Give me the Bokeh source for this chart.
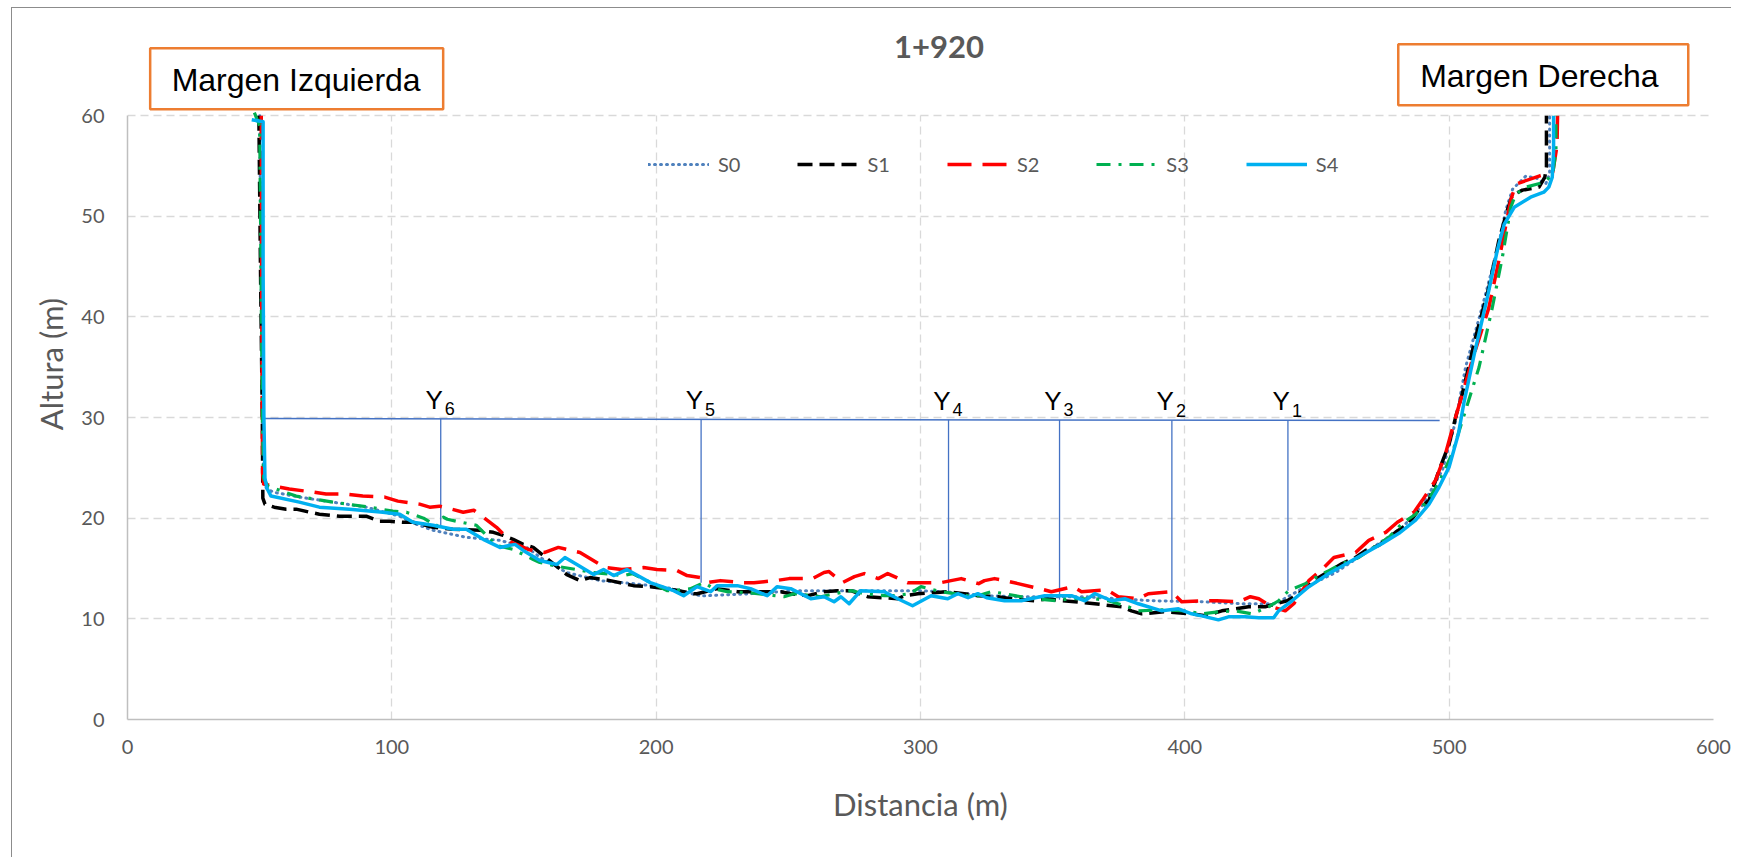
import numpy as np
from bokeh.plotting import figure
from bokeh.models import (ColumnDataSource, Legend, LegendItem, FixedTicker, Range1d)
from bokeh.core.properties import value
from bokeh.embed import file_html
from bokeh.resources import INLINE

TITLE = "1+920"
X_LABEL = "Distancia (m)"
Y_LABEL = "Altura (m)"
X_TICKS = [0, 100, 200, 300, 400, 500, 600]
Y_TICKS = [0, 10, 20, 30, 40, 50, 60]
SERIES = ["S0", "S1", "S2", "S3", "S4"]

S0_pts = [(50.0, 60), (50.5, 45), (51.0, 30), (51.5, 24), (52.5, 23), (55, 22.6), (65, 22.1),
          (77.7, 21.6), (90.3, 21.1), (103, 20.2), (109.3, 19.4), (115.6, 18.8), (128.2, 18.1),
          (140.9, 17.8), (151, 17.1), (157.3, 15.9), (166.2, 14.6), (178.8, 13.8), (191.5, 13.5),
          (204.1, 13.1), (216.7, 12.3), (219.3, 12.3), (235.7, 12.5), (252.2, 12.8), (273.7, 12.8),
          (299, 12.8), (309, 12.7), (324.2, 12.3), (336.9, 12.2), (349.5, 12.2), (362.2, 12.2),
          (374.8, 12.0), (387.5, 11.8), (406.4, 11.7), (421.6, 11.5), (434.2, 11.5), (444.4, 13.0),
          (457, 14.6), (469.6, 16.8), (482.3, 19.1), (489.9, 21.3), (497.5, 24.8), (502.5, 29.7),
          (506.2, 35), (512.5, 41), (518.8, 47.3), (521.4, 50.6), (524, 52.7), (529, 54.0),
          (533, 53.8), (536.5, 53.2), (538.0, 54.2), (538.0, 60)]

S1_pts = [(49.7, 60), (50.3, 45), (51.0, 30), (51.2, 22), (52, 21.4), (55.5, 21.1), (60, 20.9),
          (63.8, 20.9), (68.8, 20.6), (72.6, 20.4), (80.2, 20.2), (90.3, 20.2), (95.4, 19.7),
          (99.2, 19.7), (104.2, 19.6), (108, 19.6), (115.6, 19.1), (123, 18.9), (133.3, 18.8),
          (138.4, 18.6), (142.1, 18.3), (145.9, 17.9), (149.7, 17.4), (153.5, 17.1), (157.3, 16.3),
          (162, 15.3), (166.2, 14.4), (171.2, 13.8), (175, 14.1), (182.6, 13.8), (191.4, 13.3),
          (197.8, 13.2), (204.1, 13.0), (214.2, 12.5), (215.5, 12.5), (223.1, 13.0), (230.7, 12.7),
          (235.7, 12.7), (247.1, 12.7), (250.9, 12.5), (257.2, 12.3), (263.5, 12.7), (268.6, 12.8),
          (273.7, 12.8), (280, 12.2), (291.4, 12.0), (293.9, 12.3), (299, 12.5), (305, 12.6),
          (310, 12.7), (316.6, 12.5), (321.7, 12.3), (329.3, 12.2), (334.3, 12.0), (343.2, 11.8),
          (348.2, 12.0), (353.3, 11.8), (358.4, 11.7), (365.9, 11.5), (372.3, 11.3), (376.1, 11.2),
          (379.8, 10.8), (383.7, 10.5), (392, 10.7), (402.6, 10.5), (407.7, 10.3), (414, 10.8),
          (419, 11.0), (424.1, 11.2), (430.4, 11.2), (438.7, 11.8), (443.1, 12.5), (450, 14.0),
          (459.5, 15.5), (464.6, 16.1), (468.4, 16.8), (473.4, 17.3), (479.7, 18.6), (484.8, 19.5),
          (488.6, 20.9), (492.4, 21.8), (496.2, 24.8), (500, 27.4), (502.5, 30.1), (505, 32.4),
          (510, 38), (515, 42.9), (518.8, 47.6), (522, 50.6), (523.9, 52.1), (527.7, 52.6),
          (534, 52.9), (536.2, 53.9), (536.8, 54.9), (536.8, 60)]

S2_pts = [(50.6, 60), (50.8, 40), (51.1, 24.5), (51.5, 23.4), (55, 23.2), (61.2, 22.9), (70.1, 22.6),
          (75.1, 22.4), (82.7, 22.4), (89, 22.2), (97.3, 22.1), (102.3, 21.7), (110.5, 21.4),
          (114.3, 21.1), (118, 21.2), (122.6, 20.9), (127, 20.6), (131, 20.8), (134.6, 20.1),
          (139.6, 19.1), (145.3, 17.6), (151.6, 16.9), (157.9, 16.6), (163, 17.1), (171.2, 16.6),
          (175.6, 15.9), (180.7, 15.1), (187, 14.9), (195.2, 15.1), (200.3, 14.9), (207.9, 14.8),
          (211.7, 14.3), (216.7, 14.1), (219.3, 13.6), (224.3, 13.8), (233.2, 13.6), (237, 13.6),
          (245.2, 13.8), (250.3, 14.0), (259.1, 14.0), (263.5, 14.6), (265.4, 14.7), (270.5, 13.6),
          (275, 14.2), (278.7, 14.5), (284, 14.0), (287.6, 14.5), (295.1, 13.6), (300.2, 13.6),
          (307.8, 13.6), (315.4, 14.0), (322, 13.5), (324.2, 13.8), (328, 14.0), (331.8, 13.8),
          (336.9, 13.5), (345.1, 13.0), (349.5, 12.7), (357.7, 13.2), (360.9, 12.7), (370.4, 12.9),
          (374.8, 12.2), (382.4, 12.0), (386.2, 12.5), (395.0, 12.7), (398.8, 11.7), (407.1, 11.8),
          (412.1, 11.8), (420.3, 11.7), (424.8, 12.2), (428, 12.0), (433, 11.2), (438, 10.8),
          (441.2, 11.5), (446.9, 13.8), (452.6, 15.1), (456.4, 16.1), (464.6, 16.6), (469.6, 17.8),
          (476, 18.6), (480.4, 19.6), (486.7, 20.6), (489.9, 21.8), (494.9, 23.8), (498.6, 26.4),
          (502.5, 30.1), (508.7, 35.7), (515, 40.9), (518.8, 45.6), (523.3, 51.6), (525.2, 53.2),
          (534, 54.0), (539.2, 54.4), (540.8, 57), (541.0, 60)]

S3_pts = [(48, 60.3), (50, 59), (50.5, 45), (51, 30), (51.5, 24), (53, 23.2), (63.8, 22.2),
          (77.7, 21.6), (91.6, 21.1), (100.4, 20.7), (105.5, 20.6), (112, 20.0), (117, 19.2),
          (119.5, 20.1), (121, 19.9), (124.4, 19.7), (132, 19.3), (139.6, 17.3), (145.9, 16.9),
          (153.5, 15.9), (156, 15.6), (163, 15.2), (170, 14.9), (176.3, 14.6), (187.7, 14.3),
          (191, 14.5), (200.3, 13.3), (204.1, 12.8), (210, 12.9), (213, 13.0), (218, 13.6),
          (221.8, 13.0), (226.9, 12.7), (235, 12.6), (248.4, 12.2), (252.2, 12.5), (262.3, 12.2),
          (267.3, 12.5), (273.7, 12.8), (278.7, 12.5), (286.3, 12.3), (290.1, 12.3), (296, 12.5),
          (300.2, 13.2), (307.8, 12.7), (318, 12.3), (321.7, 12.3), (326.8, 12.7), (331.8, 12.5),
          (338.1, 12.2), (343.2, 12.0), (352, 11.8), (355.8, 12.0), (366, 12.0), (371, 11.8),
          (378.6, 11.2), (382.4, 10.8), (392, 10.9), (400.1, 10.8), (406.4, 10.5), (413, 10.7),
          (419, 10.8), (425.4, 10.5), (431.7, 11.2), (435.5, 11.8), (439.3, 12.8), (445.6, 13.5),
          (449.4, 14.1), (454.5, 14.8), (459.5, 15.5), (465.8, 16.1), (470.9, 17.0), (477.2, 18.1),
          (482.3, 19.5), (487.3, 20.4), (492, 21.8), (496, 23.5), (501.1, 26.4), (505, 29.7),
          (511.3, 35), (516.3, 40.9), (520.1, 45.9), (523.3, 50.9), (525.2, 52.2), (529, 52.9),
          (536.2, 53.4), (539.2, 54.2), (540.4, 56.5), (540.4, 60)]

S4_pts = [(47, 59.6), (51.3, 59.4), (51.3, 45), (51.6, 30), (52, 24), (52.7, 23), (54.3, 22.2),
          (65, 21.6), (72.6, 21.1), (84, 20.9), (96.6, 20.6), (103, 20.4), (108, 19.6), (115.6, 19.3),
          (123.2, 18.9), (128.2, 18.9), (134.6, 17.9), (140.9, 17.1), (146.6, 17.4), (149.7, 16.8),
          (156, 15.8), (162.4, 15.4), (165.5, 16.1), (170, 15.4), (176.3, 14.4), (180.1, 14.9),
          (183.9, 14.3), (188.9, 14.9), (197.8, 13.6), (206.6, 12.8), (210.4, 12.3), (215.5, 13.2),
          (220.6, 12.7), (223.1, 13.3), (230.7, 13.3), (235.7, 13.0), (242, 12.3), (245.8, 13.2),
          (250.9, 13.0), (258.5, 12.0), (263.5, 12.2), (267.3, 11.7), (269.9, 12.2), (273, 11.5),
          (277.4, 12.8), (286.3, 12.7), (291.4, 12.0), (297, 11.3), (304, 12.3), (310.3, 12.0),
          (314.1, 12.5), (318, 12.1), (321.7, 12.5), (325, 12.1), (331.8, 11.8), (338.1, 11.8),
          (347, 12.3), (357.1, 12.3), (362.2, 11.8), (365.9, 12.5), (372.3, 11.8), (377.3, 12.0),
          (382.4, 11.5), (391.3, 10.8), (397.6, 11.0), (402.6, 10.5), (406.4, 10.3), (412.7, 9.9),
          (416.5, 10.2), (422.9, 10.2), (427.9, 10.1), (433.6, 10.1), (435.5, 10.8), (440.6, 11.8),
          (446.9, 13.2), (454.5, 14.5), (464.6, 16.0), (474.7, 17.5), (481, 18.5), (487.3, 19.8),
          (492.4, 21.4), (496.2, 23.1), (500, 25.1), (503.5, 28.4), (505.6, 31.5), (509.5, 36.3),
          (514.4, 41.9), (518.2, 46.6), (520.8, 49.2), (524.6, 50.9), (530.8, 51.9), (535.8, 52.4),
          (537.7, 52.9), (539.0, 53.9), (539.5, 56.5), (539.5, 60)]

WATER_X = [51.0, 496.4]
WATER_Y = [29.9, 29.7]
Y_NAMES = ["1", "2", "3", "4", "5", "6"]
Y_POS = [439.0, 395.1, 352.6, 310.6, 217.0, 118.5]
Y_BED = [12.8, 11.8, 11.9, 12.5, 13.6, 19.2]

MARGINS = ["Margen Izquierda", "Margen Derecha"]

# ---------------------------------------------------------------- layout (pixels / anchor positions)
Y_MAX = 60
Y_TOP = 70.65            # frame extends up to the top of the canvas (title area)
FL, FW, FH = 115, 1586, 711
TITLE_POS = (307.0, 65.65)
BOX_POS = [(64.0, 63.67), (535.6, 64.06)]
BOX_SIZE = [(293, 61), (290, 61)]
BOX_TEXT_POS = [(63.8, 62.57), (534.1, 62.9)]

p = figure(frame_width=FW, frame_height=FH, x_range=Range1d(0, 600), y_range=Range1d(0, Y_TOP),
           output_backend="svg", toolbar_location=None,
           min_border_left=FL, min_border_right=18,
           min_border_top=0, min_border_bottom=138)
p.styles = {"margin-left": "11px", "margin-top": "7px",
            "border-left": "1px solid #8C8C8C", "border-top": "1px solid #8C8C8C"}
p.outline_line_color = None
p.background_fill_color = "white"
p.border_fill_color = "white"

GRAY = "#595959"
for ax in (p.xaxis[0], p.yaxis[0]):
    ax.axis_line_color = "#BFBFBF"
    ax.axis_line_width = 1.5
    ax.major_tick_line_color = None
    ax.minor_tick_line_color = None
    ax.major_tick_out = 0
    ax.major_tick_in = 0
    ax.major_label_text_font = "Lato"
    ax.major_label_text_font_size = "20px"
    ax.major_label_text_color = GRAY
    ax.axis_label_text_font = "Lato"
    ax.axis_label_text_font_size = "31px"
    ax.axis_label_text_font_style = "normal"
    ax.axis_label_text_color = GRAY

p.xaxis.ticker = FixedTicker(ticks=X_TICKS)
p.yaxis.ticker = FixedTicker(ticks=Y_TICKS)
p.yaxis.bounds = (0, Y_MAX)
p.xaxis.axis_label = X_LABEL
p.yaxis.axis_label = Y_LABEL
p.xaxis.major_label_standoff = 20
p.yaxis.major_label_standoff = 23
p.xaxis.axis_label_standoff = 28
p.yaxis.axis_label_standoff = 8

GRID = dict(line_color="#D9D9D9", line_dash="8 5", line_width=1.3)
yg = p.ygrid[0]
yg.grid_line_color = GRID["line_color"]
yg.grid_line_dash = GRID["line_dash"]
yg.grid_line_width = GRID["line_width"]
xg = p.xgrid[0]
if "cross_bounds" in xg.properties():
    xg.cross_bounds = (0, Y_MAX)
    xg.grid_line_color = GRID["line_color"]
    xg.grid_line_dash = GRID["line_dash"]
    xg.grid_line_width = GRID["line_width"]
else:
    xg.visible = False
    gx = X_TICKS[1:]
    p.segment(x0=gx, y0=[0] * len(gx), x1=gx, y1=[Y_MAX] * len(gx), level="underlay", **GRID)

# ---------------------------------------------------------------- water line & Y verticals
water_at = list(np.interp(Y_POS, WATER_X, WATER_Y))
p.line(WATER_X, WATER_Y, line_color="#4472C4", line_width=1.5)
p.segment(x0=Y_POS, y0=Y_BED, x1=Y_POS, y1=water_at, line_color="#4472C4", line_width=1.3)

src_y = ColumnDataSource(dict(x=Y_POS, y=water_at, t=["Y"] * len(Y_POS), s=Y_NAMES))
p.text(x="x", y="y", text="t", source=src_y, text_align="right", text_baseline="alphabetic",
       x_offset=2, y_offset=-19, text_font=value("Liberation Sans"),
       text_font_size=value("26px"), text_color="black")
p.text(x="x", y="y", text="s", source=src_y, text_align="left", text_baseline="alphabetic",
       x_offset=4, y_offset=-10, text_font=value("Liberation Sans"),
       text_font_size=value("18px"), text_color="black")

# ---------------------------------------------------------------- series
styles = {
    "S0": dict(line_color="#4F81BD", line_width=3.0, line_dash="1 5", line_cap="round"),
    "S1": dict(line_color="black", line_width=3.5, line_dash="15 7"),
    "S2": dict(line_color="#FF0000", line_width=3.5, line_dash="24 11"),
    "S3": dict(line_color="#00B050", line_width=3.2, line_dash="14 8 3 8"),
    "S4": dict(line_color="#00B0F0", line_width=3.5),
}
data = {"S0": S0_pts, "S1": S1_pts, "S2": S2_pts, "S3": S3_pts, "S4": S4_pts}
items = []
for name in SERIES:
    pts = data[name]
    xs = [a for a, b in pts]
    ys = [b for a, b in pts]
    r = p.line(xs, ys, line_join="round", **styles[name])
    items.append(LegendItem(label=name, renderers=[r]))

legend = Legend(items=items, orientation="horizontal", location=(521, 543),
                glyph_width=61, glyph_height=20, label_height=20, label_standoff=9, spacing=57,
                padding=0, margin=0, border_line_color=None, background_fill_alpha=0,
                label_text_font="Lato", label_text_font_size="20px", label_text_color=GRAY)
p.add_layout(legend)

# ---------------------------------------------------------------- title & margin boxes
p.text(x=[TITLE_POS[0]], y=[TITLE_POS[1]], text=[TITLE], text_align="center",
       text_baseline="alphabetic", y_offset=-12, text_font=value("Lato"), text_font_style="bold",
       text_font_size=value("31px"), text_color=GRAY)

p.rect(x=[b[0] for b in BOX_POS], y=[b[1] for b in BOX_POS],
       width=[s[0] for s in BOX_SIZE], height=[s[1] for s in BOX_SIZE],
       width_units="screen", height_units="screen",
       fill_color="white", line_color="#ED7D31", line_width=2.5)
p.text(x=[t[0] for t in BOX_TEXT_POS], y=[t[1] for t in BOX_TEXT_POS], text=MARGINS,
       text_align="center", text_baseline="alphabetic", y_offset=-10,
       text_font=value("Liberation Sans"), text_font_size=value("32px"), text_color="black")

open("out.html", "w").write(file_html(p, INLINE))
